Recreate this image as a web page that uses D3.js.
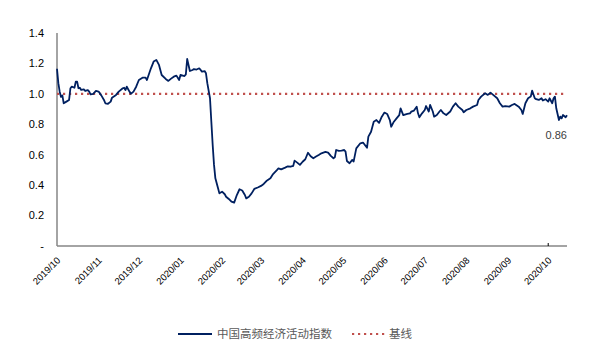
<!DOCTYPE html>
<html><head><meta charset="utf-8">
<script src="https://cdn.jsdelivr.net/npm/d3@7"></script>
<style>body{margin:0;background:#fff}svg{display:block}</style>
</head><body>
<script>
const dates = ["2019-10-01","2019-10-02","2019-10-03","2019-10-04","2019-10-05","2019-10-06","2019-10-08","2019-10-10","2019-10-11","2019-10-12","2019-10-14","2019-10-15","2019-10-16","2019-10-17","2019-10-18","2019-10-19","2019-10-21","2019-10-22","2019-10-24","2019-10-25","2019-10-26","2019-10-28","2019-10-30","2019-11-01","2019-11-03","2019-11-05","2019-11-06","2019-11-08","2019-11-10","2019-11-11","2019-11-14","2019-11-16","2019-11-19","2019-11-20","2019-11-21","2019-11-22","2019-11-24","2019-11-25","2019-11-27","2019-11-29","2019-12-01","2019-12-04","2019-12-06","2019-12-07","2019-12-10","2019-12-12","2019-12-14","2019-12-16","2019-12-18","2019-12-21","2019-12-23","2019-12-25","2019-12-27","2019-12-29","2019-12-31","2020-01-01","2020-01-04","2020-01-05","2020-01-06","2020-01-08","2020-01-10","2020-01-11","2020-01-13","2020-01-15","2020-01-17","2020-01-19","2020-01-20","2020-01-21","2020-01-23","2020-01-24","2020-01-25","2020-01-26","2020-01-27","2020-01-29","2020-01-30","2020-02-01","2020-02-03","2020-02-04","2020-02-06","2020-02-08","2020-02-10","2020-02-12","2020-02-14","2020-02-16","2020-02-18","2020-02-19","2020-02-21","2020-02-23","2020-02-25","2020-02-28","2020-03-01","2020-03-03","2020-03-05","2020-03-08","2020-03-10","2020-03-13","2020-03-14","2020-03-16","2020-03-19","2020-03-21","2020-03-23","2020-03-25","2020-03-26","2020-03-28","2020-03-30","2020-04-01","2020-04-03","2020-04-05","2020-04-07","2020-04-09","2020-04-11","2020-04-13","2020-04-15","2020-04-18","2020-04-20","2020-04-22","2020-04-24","2020-04-25","2020-04-26","2020-04-28","2020-04-30","2020-05-02","2020-05-03","2020-05-04","2020-05-06","2020-05-08","2020-05-09","2020-05-11","2020-05-14","2020-05-16","2020-05-19","2020-05-20","2020-05-22","2020-05-24","2020-05-26","2020-05-28","2020-05-30","2020-06-01","2020-06-03","2020-06-05","2020-06-06","2020-06-08","2020-06-10","2020-06-12","2020-06-13","2020-06-15","2020-06-18","2020-06-20","2020-06-21","2020-06-23","2020-06-25","2020-06-26","2020-06-27","2020-06-29","2020-07-01","2020-07-02","2020-07-04","2020-07-05","2020-07-07","2020-07-08","2020-07-10","2020-07-12","2020-07-13","2020-07-15","2020-07-17","2020-07-20","2020-07-22","2020-07-24","2020-07-26","2020-07-29","2020-07-30","2020-08-01","2020-08-04","2020-08-06","2020-08-09","2020-08-10","2020-08-12","2020-08-15","2020-08-17","2020-08-19","2020-08-21","2020-08-24","2020-08-26","2020-08-28","2020-08-30","2020-09-02","2020-09-04","2020-09-06","2020-09-09","2020-09-11","2020-09-12","2020-09-14","2020-09-16","2020-09-18","2020-09-19","2020-09-21","2020-09-22","2020-09-24","2020-09-26","2020-09-27","2020-09-29","2020-10-01","2020-10-02","2020-10-04","2020-10-05","2020-10-06","2020-10-07","2020-10-09","2020-10-10","2020-10-11","2020-10-12","2020-10-14","2020-10-15"];
const indexValues = [1.165,1.07,1.014,0.98,0.99,0.938,0.949,0.96,1.037,1.047,1.04,1.08,1.08,1.037,1.04,1.026,1.03,1.019,1.025,1.015,0.997,1.0,1.019,1.015,0.99,0.96,0.938,0.935,0.949,0.975,0.993,1.015,1.037,1.04,1.025,1.047,1.015,1.0,1.015,1.047,1.091,1.107,1.107,1.091,1.168,1.212,1.223,1.19,1.124,1.098,1.085,1.10,1.113,1.12,1.091,1.124,1.117,1.128,1.229,1.15,1.157,1.163,1.16,1.168,1.146,1.15,1.135,1.07,0.971,0.817,0.664,0.533,0.445,0.379,0.346,0.357,0.34,0.324,0.309,0.291,0.285,0.335,0.373,0.365,0.335,0.313,0.324,0.346,0.375,0.386,0.395,0.408,0.427,0.445,0.473,0.50,0.51,0.504,0.515,0.524,0.521,0.526,0.561,0.548,0.533,0.554,0.57,0.613,0.59,0.577,0.588,0.598,0.609,0.618,0.614,0.592,0.577,0.583,0.631,0.625,0.627,0.631,0.62,0.559,0.544,0.566,0.555,0.642,0.675,0.68,0.646,0.719,0.751,0.817,0.828,0.81,0.85,0.877,0.868,0.828,0.784,0.817,0.839,0.86,0.905,0.86,0.868,0.872,0.883,0.89,0.916,0.872,0.846,0.872,0.894,0.92,0.884,0.927,0.884,0.85,0.861,0.884,0.894,0.872,0.861,0.884,0.916,0.938,0.916,0.894,0.879,0.894,0.905,0.916,0.927,0.96,0.982,1.004,0.993,1.008,0.993,0.971,0.938,0.916,0.92,0.916,0.927,0.934,0.916,0.894,0.868,0.938,0.971,0.982,1.021,0.971,0.965,0.96,0.971,0.956,0.965,0.949,0.971,0.938,0.971,0.982,0.905,0.828,0.85,0.839,0.861,0.846,0.86];
const baseline = 1.0;
const yTicks = [0, 0.2, 0.4, 0.6, 0.8, 1.0, 1.2, 1.4];
const yTickLabels = ["-", "0.2", "0.4", "0.6", "0.8", "1.0", "1.2", "1.4"];
const monthTicks = ["2019-10-01","2019-11-01","2019-12-01","2020-01-01","2020-02-01","2020-03-01","2020-04-01","2020-05-01","2020-06-01","2020-07-01","2020-08-01","2020-09-01","2020-10-01"];
const legendLabels = ["中国高频经济活动指数", "基线"];
const lastLabel = "0.86";

const W = 615, H = 359;
const parse = d3.timeParse("%Y-%m-%d");
const data = dates.map((d, i) => ({ date: parse(d), value: indexValues[i] }));

const svg = d3.select("body").append("svg").attr("width", W).attr("height", H);
const x = d3.scaleTime().domain([parse("2019-10-01"), parse("2020-10-15")]).range([57, 567]);
const y = d3.scaleLinear().domain([0, 1.4]).range([246, 33]);
const font = "'Liberation Sans', Arial, sans-serif";

// y labels
svg.append("g").selectAll("text").data(yTicks).join("text")
  .attr("x", 44).attr("y", d => y(d)).attr("dy", "0.35em")
  .attr("text-anchor", "end").attr("font-family", font).attr("font-size", 11)
  .attr("fill", "#000").text((d, i) => yTickLabels[i]);

// x labels
svg.append("g").selectAll("text").data(monthTicks).join("text")
  .attr("transform", d => `translate(${x(parse(d)) + 4},${261}) rotate(-45)`)
  .attr("text-anchor", "end").attr("font-family", font).attr("font-size", 9.5)
  .attr("fill", "#000").text(d => d.slice(0, 7).replace("-", "/"));

// axes lines
svg.append("line").attr("x1", x.range()[0]).attr("x2", x.range()[1]).attr("y1", y(0)).attr("y2", y(0))
  .attr("stroke", "#868686").attr("stroke-width", 1.5);
svg.append("line").attr("x1", x.range()[0]).attr("x2", x.range()[0]).attr("y1", y(1.4)).attr("y2", y(0))
  .attr("stroke", "#868686").attr("stroke-width", 1.5);
svg.append("line").attr("x1", x(parse("2020-10-01"))).attr("x2", x(parse("2020-10-01")))
  .attr("y1", y(0) - 3).attr("y2", y(0)).attr("stroke", "#000").attr("stroke-width", 1);

// baseline
svg.append("line").attr("x1", x.range()[0]).attr("x2", x.range()[1]).attr("y1", y(baseline)).attr("y2", y(baseline))
  .attr("stroke", "#c0504d").attr("stroke-width", 2.2).attr("stroke-dasharray", "2.2 3.8");

// index line
svg.append("path").datum(data)
  .attr("d", d3.line().x(d => x(d.date)).y(d => y(d.value)))
  .attr("fill", "none").attr("stroke", "#002060").attr("stroke-width", 1.8).attr("stroke-linejoin", "round");

// last value label
const last = data[data.length - 1];
svg.append("text").attr("x", x(last.date)).attr("y", y(last.value) + 24)
  .attr("text-anchor", "end").attr("font-family", font).attr("font-size", 11)
  .attr("fill", "#404040").text(lastLabel);

// legend
const lg = svg.append("g");
lg.append("line").attr("x1", 178).attr("x2", 212).attr("y1", 334).attr("y2", 334)
  .attr("stroke", "#002060").attr("stroke-width", 1.8);
lg.append("text").attr("x", 217).attr("y", 334).attr("dy", "0.35em")
  .attr("font-family", "'Noto Sans CJK SC', sans-serif").attr("font-size", 11.5).attr("fill", "#595959").text(legendLabels[0]);
lg.append("line").attr("x1", 352).attr("x2", 385).attr("y1", 334).attr("y2", 334)
  .attr("stroke", "#c0504d").attr("stroke-width", 2.2).attr("stroke-dasharray", "2.2 3.8");
lg.append("text").attr("x", 389).attr("y", 334).attr("dy", "0.35em")
  .attr("font-family", "'Noto Sans CJK SC', sans-serif").attr("font-size", 11.5).attr("fill", "#595959").text(legendLabels[1]);
</script>
</body></html>
